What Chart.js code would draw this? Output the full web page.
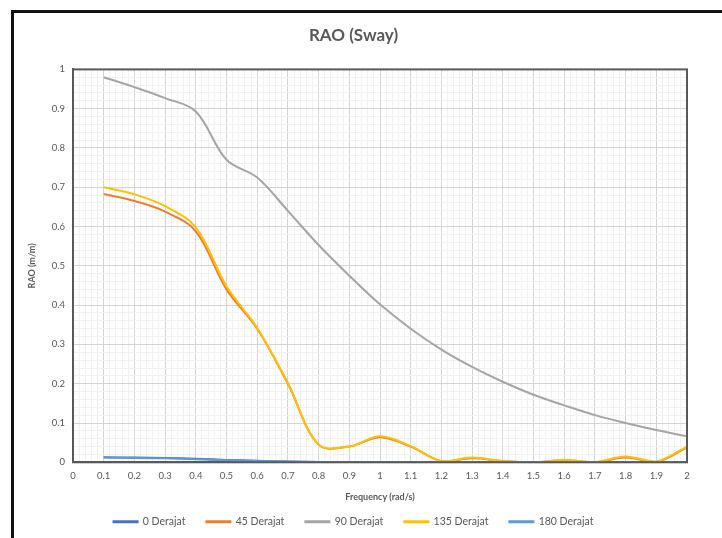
<!DOCTYPE html>
<html lang="id">
<head>
    <meta charset="UTF-8">
    <title>RAO (Sway)</title>
    <script src="https://cdn.jsdelivr.net/npm/chart.js"></script>
    <style>
        html, body {
            margin: 0;
            padding: 0;
            background: #ffffff;
            overflow: hidden;
            width: 722px;
            height: 538px;
        }

        .wrap {
            position: absolute;
            left: 0;
            top: 0;
            width: 722px;
            height: 538px;
        }

        .bingkai {
            position: absolute;
            left: 11px;
            top: 10px;
            width: 760px;
            height: 600px;
            border: 3px solid #111111;
            pointer-events: none;
        }
    </style>
</head>
<body>

    <div class="wrap">
        <canvas id="grafikRAO" width="722" height="538"></canvas>
    </div>
    <div class="bingkai"></div>

    <script>
        // frekuensi (rad/s)
        const frekuensi = [0.1, 0.2, 0.3, 0.4, 0.5, 0.6, 0.7, 0.8, 0.9, 1.0,
                           1.1, 1.2, 1.3, 1.4, 1.5, 1.6, 1.7, 1.8, 1.9, 2.0];

        // RAO (m/m) per arah gelombang
        const rao0   = [0.013, 0.012, 0.011, 0.009, 0.006, 0.004, 0.002, 0.001, 0.0, 0.0,
                        0.0, 0.0, 0.0, 0.0, 0.0, 0.0, 0.0, 0.0, 0.0, 0.0];
        const rao45  = [0.683, 0.665, 0.638, 0.588, 0.440, 0.340, 0.200, 0.045, 0.040, 0.064,
                        0.040, 0.003, 0.010, 0.003, 0.000, 0.005, 0.000, 0.012, 0.001, 0.038];
        const rao90  = [0.980, 0.955, 0.927, 0.893, 0.770, 0.725, 0.640, 0.553, 0.475, 0.402,
                        0.340, 0.287, 0.243, 0.205, 0.172, 0.145, 0.120, 0.100, 0.082, 0.066];
        const rao135 = [0.700, 0.682, 0.652, 0.598, 0.448, 0.342, 0.202, 0.045, 0.040, 0.066,
                        0.041, 0.003, 0.012, 0.003, 0.000, 0.006, 0.001, 0.015, 0.002, 0.040];
        const rao180 = [0.012, 0.011, 0.010, 0.008, 0.005, 0.003, 0.002, 0.001, 0.0, 0.0,
                        0.0, 0.0, 0.0, 0.0, 0.0, 0.0, 0.0, 0.0, 0.0, 0.0];

        const namaSeri = ['0 Derajat', '45 Derajat', '90 Derajat', '135 Derajat', '180 Derajat'];
        const warnaSeri = ['#4472C4', '#ED7D31', '#A5A5A5', '#FFC000', '#5B9BD5'];
        const nilaiSeri = [rao0, rao45, rao90, rao135, rao180];

        const teks = '#595959';
        const huruf = 'Lato, "Open Sans", sans-serif';
        const geserLegenda = 11;

        function isMayor(v, langkah) {
            const k = v / langkah;
            return Math.abs(k - Math.round(k)) < 1e-6;
        }

        const datasets = nilaiSeri.map((arr, i) => ({
            label: namaSeri[i],
            data: frekuensi.map((f, j) => ({ x: f, y: arr[j] })),
            borderColor: warnaSeri[i],
            backgroundColor: warnaSeri[i],
            borderWidth: 2,
            pointRadius: 0,
            tension: 0.35,
            fill: false,
            order: 4 - i
        }));

        const ctx = document.getElementById('grafikRAO').getContext('2d');
        new Chart(ctx, {
            type: 'line',
            data: { datasets: datasets },
            options: {
                responsive: false,
                animation: false,
                layout: {
                    padding: { left: 20, right: 35, top: 22, bottom: 1 }
                },
                plugins: {
                    title: {
                        display: true,
                        text: 'RAO (Sway)',
                        color: teks,
                        font: { family: huruf, size: 17, weight: 'bold' },
                        padding: { top: 3, bottom: 24 }
                    },
                    legend: {
                        position: 'bottom',
                        labels: {
                            color: teks,
                            font: { family: huruf, size: 10.5 },
                            boxWidth: 24,
                            boxHeight: 1,
                            padding: 21,
                            sort: (a, b) => a.datasetIndex - b.datasetIndex
                        }
                    },
                    tooltip: { enabled: false }
                },
                scales: {
                    x: {
                        type: 'linear',
                        min: 0,
                        max: 2,
                        ticks: {
                            stepSize: 0.02,
                            autoSkip: false,
                            maxRotation: 0,
                            color: teks,
                            font: { family: huruf, size: 9.5 },
                            padding: 8,
                            callback: v => isMayor(v, 0.1) ? String(Math.round(v * 10) / 10) : ''
                        },
                        grid: {
                            color: c => isMayor(c.tick.value, 0.1) ? '#d4d4d4' : '#f1f1f1',
                            lineWidth: 1,
                            drawTicks: false
                        },
                        border: { color: '#595959', width: 2 },
                        title: {
                            display: true,
                            text: 'Frequency (rad/s)',
                            color: teks,
                            font: { family: huruf, size: 9, weight: 'bold' },
                            padding: { top: 2, bottom: 4 }
                        }
                    },
                    y: {
                        min: 0,
                        max: 1,
                        ticks: {
                            stepSize: 0.02,
                            autoSkip: false,
                            color: teks,
                            font: { family: huruf, size: 9.5 },
                            padding: 8,
                            callback: v => isMayor(v, 0.1) ? String(Math.round(v * 10) / 10) : ''
                        },
                        grid: {
                            color: c => isMayor(c.tick.value, 0.1) ? '#d4d4d4' : '#f1f1f1',
                            lineWidth: 1,
                            drawTicks: false
                        },
                        border: { color: '#595959', width: 2 },
                        title: {
                            display: true,
                            text: 'RAO (m/m)',
                            color: teks,
                            font: { family: huruf, size: 9, weight: 'bold' },
                            padding: { top: 7, bottom: 5 }
                        },
                        afterFit: s => { s.width = 53; }
                    }
                }
            },
            plugins: [{
                // legenda: jarak antar item lebar, tapi tetap rapat ke judul sumbu
                id: 'aturLegenda',
                beforeLayout(chart) {
                    const lg = chart.legend;
                    if (lg && !lg._sudahDiatur) {
                        const fitAsli = lg.fit;
                        lg.fit = function () {
                            fitAsli.call(this);
                            this.height -= geserLegenda;
                        };
                        lg._sudahDiatur = true;
                    }
                },
                afterLayout(chart) {
                    // geser ke atas, bagian bawah tetap supaya teks tidak terpotong
                    chart.legend.top -= geserLegenda;
                    chart.legend.height += geserLegenda;
                }
            }, {
                // garis tepi area plot
                id: 'tepiPlot',
                afterDatasetsDraw(chart) {
                    const a = chart.chartArea;
                    const c = chart.ctx;
                    c.save();
                    c.strokeStyle = '#595959';
                    c.lineWidth = 2;
                    c.strokeRect(a.left, a.top, a.right - a.left, a.bottom - a.top);
                    c.restore();
                }
            }]
        });
    </script>
</body>
</html>
